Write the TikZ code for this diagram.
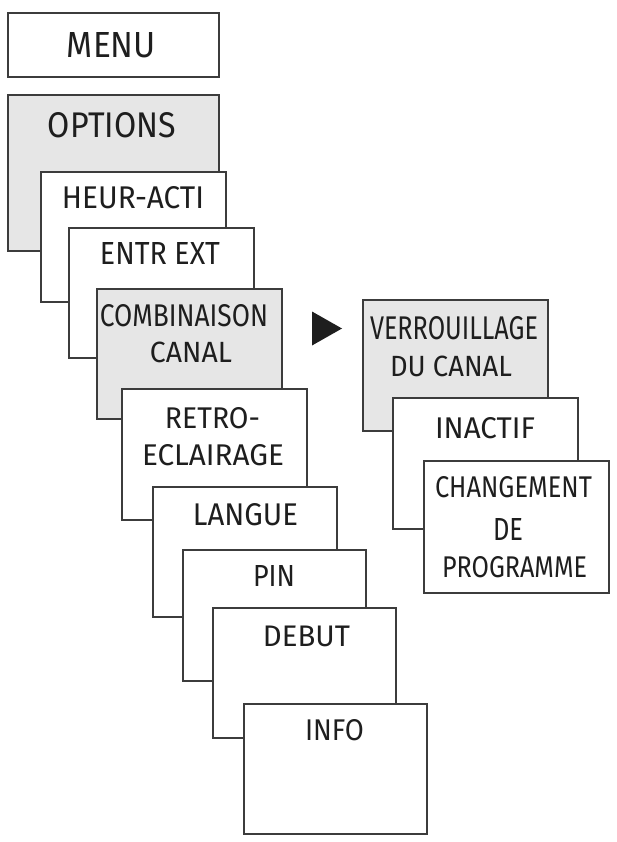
\documentclass[tikz,border=0pt]{standalone}
\usepackage{fontspec}
\setmainfont{Fira Sans}
\usepackage{graphicx}
\definecolor{edge}{HTML}{3C3C3C}
\definecolor{shade}{HTML}{E6E6E6}
\definecolor{ink}{HTML}{1E1E1E}
\newcommand\fitlbl[3]{\resizebox{#1pt}{#2pt}{#3}}
\tikzset{
  menubox/.style={draw=edge, line width=2pt, fill=white, inner sep=0pt, minimum width=185pt, minimum height=130pt},
  greybox/.style={menubox, fill=shade},
  lbl/.style={anchor=south, inner sep=0pt, text=ink}
}
\begin{document}
\begin{tikzpicture}[x=1pt,y=-1pt]
\useasboundingbox (0,0) rectangle (617,842);
% left column
\node[menubox, minimum width=211pt, minimum height=64pt] (menu) at (113.5,45) {};
\node[lbl] (menuT) at (111.5,58) {\fitlbl{89}{25}{MENU}};
\node[greybox, minimum width=211pt, minimum height=156pt] (options) at (113.5,173) {};
\node[lbl] (optionsT) at (112,138) {\fitlbl{128}{25}{OPTIONS}};
\node[menubox] (heur) at (133.5,237) {};
\node[lbl] (heurT) at (133,209) {\fitlbl{142}{22}{HEUR-ACTI}};
\node[menubox] (entr) at (161.5,293) {};
\node[lbl] (entrT) at (160,265) {\fitlbl{120}{22}{ENTR EXT}};
\node[greybox] (comb) at (189.5,354) {};
\node[lbl] (combT1) at (184,327) {\fitlbl{168}{22}{COMBINAISON}};
\node[lbl] (combT2) at (191,363) {\fitlbl{82}{20.5}{CANAL}};
\node[menubox, minimum height=131pt] (retro) at (214.5,454.5) {};
\node[lbl] (retroT1) at (212.5,429) {\fitlbl{95}{21}{RETRO-}};
\node[lbl] (retroT2) at (213,466) {\fitlbl{142}{21}{ECLAIRAGE}};
\node[menubox, minimum width=184pt] (langue) at (245,552) {};
\node[lbl] (langueT) at (245.5,526) {\fitlbl{105}{22}{LANGUE}};
\node[menubox, minimum width=183pt, minimum height=131pt] (pin) at (274.5,615.5) {};
\node[lbl] (pinT) at (274,587) {\fitlbl{42}{21}{PIN}};
\node[menubox, minimum width=183pt] (debut) at (304.5,673) {};
\node[lbl] (debutT) at (306.5,647) {\fitlbl{87}{20.5}{DEBUT}};
\node[menubox, minimum width=183pt] (info) at (335.5,769) {};
\node[lbl] (infoT) at (334.5,741) {\fitlbl{59}{21}{INFO}};
% arrow
\fill[ink] (312,311.5) -- (342,328.5) -- (312,345.5) -- cycle;
% right column
\node[greybox, minimum height=131pt] (verr) at (455.5,365.5) {};
\node[lbl] (verrT1) at (454,340) {\fitlbl{168}{23}{VERROUILLAGE}};
\node[lbl] (verrT2) at (451,377) {\fitlbl{122}{20.5}{DU CANAL}};
\node[menubox, minimum height=131pt] (inact) at (485.5,463.5) {};
\node[lbl] (inactT) at (485,439) {\fitlbl{100}{21}{INACTIF}};
\node[menubox, minimum height=132pt] (chang) at (516.5,527) {};
\node[lbl] (changT1) at (513.5,498) {\fitlbl{157}{21}{CHANGEMENT}};
\node[lbl] (changT2) at (508,541) {\fitlbl{30}{22}{DE}};
\node[lbl] (changT3) at (514.5,578) {\fitlbl{145}{21}{PROGRAMME}};
\end{tikzpicture}
\end{document}
